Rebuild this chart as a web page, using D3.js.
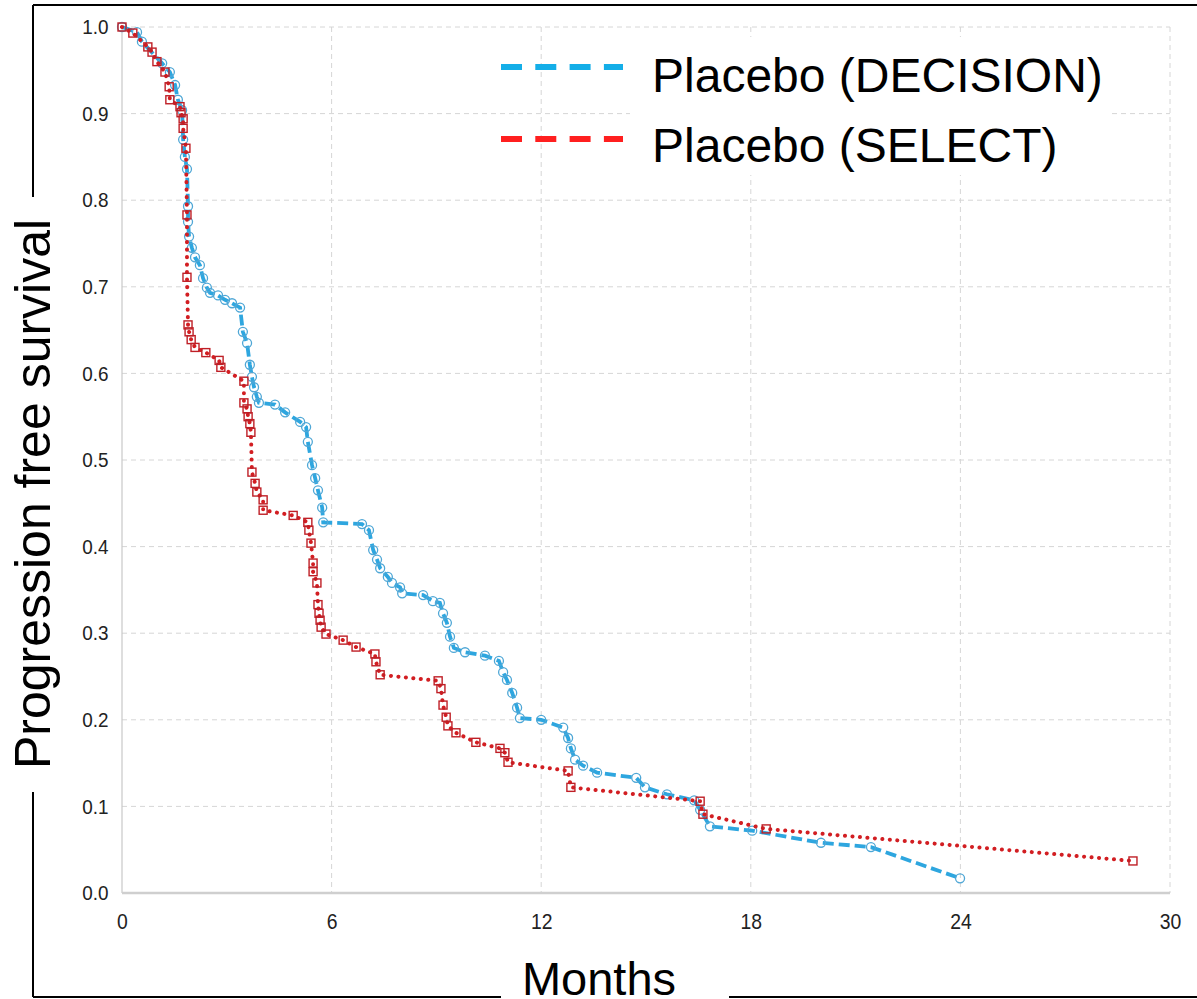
<!DOCTYPE html>
<html>
<head>
<meta charset="utf-8">
<script src="https://cdn.jsdelivr.net/npm/d3@7"></script>
<style>
  body { margin: 0; background: #fff; }
  svg { display: block; font-family: "Liberation Sans", Arial, sans-serif; }
</style>
</head>
<body>
<script>
const w = 1197;
const h = 999;

// Placebo (DECISION): months, progression free survival
const decisionMonths = [0, 0.43, 0.57, 1.15, 1.37, 1.52, 1.6, 1.72, 1.75, 1.8, 1.86, 1.89, 1.89, 1.92, 2.0, 2.09, 2.23, 2.32, 2.43, 2.52, 2.75, 2.95, 3.15, 3.38, 3.46, 3.58, 3.66, 3.72, 3.78, 3.86, 3.92, 4.38, 4.67, 5.1, 5.27, 5.32, 5.44, 5.53, 5.61, 5.73, 5.76, 6.87, 7.07, 7.19, 7.3, 7.39, 7.61, 7.73, 7.96, 8.02, 8.62, 8.9, 9.1, 9.19, 9.3, 9.39, 9.5, 9.82, 10.39, 10.79, 10.91, 11.02, 11.17, 11.31, 11.39, 12.0, 12.63, 12.77, 12.85, 12.97, 13.2, 13.6, 14.72, 14.97, 15.6, 16.38, 16.55, 16.83, 18.04, 20.01, 21.44, 23.99];
const decisionSurv = [1.0, 0.994, 0.983, 0.958, 0.948, 0.933, 0.916, 0.904, 0.87, 0.85, 0.836, 0.793, 0.775, 0.758, 0.745, 0.734, 0.725, 0.71, 0.699, 0.693, 0.69, 0.685, 0.681, 0.676, 0.648, 0.635, 0.61, 0.596, 0.584, 0.573, 0.566, 0.564, 0.555, 0.544, 0.538, 0.521, 0.494, 0.479, 0.465, 0.445, 0.428, 0.426, 0.419, 0.396, 0.385, 0.375, 0.365, 0.358, 0.353, 0.346, 0.344, 0.337, 0.335, 0.323, 0.312, 0.296, 0.283, 0.278, 0.274, 0.268, 0.255, 0.246, 0.231, 0.214, 0.202, 0.2, 0.191, 0.179, 0.167, 0.154, 0.147, 0.139, 0.133, 0.122, 0.114, 0.107, 0.096, 0.077, 0.072, 0.058, 0.053, 0.017];

// Placebo (SELECT)
const selectMonths = [0, 0.31, 0.74, 0.86, 1.0, 1.23, 1.35, 1.37, 1.66, 1.69, 1.75, 1.75, 1.83, 1.86, 1.86, 1.89, 1.92, 1.98, 2.09, 2.4, 2.78, 2.83, 3.49, 3.49, 3.58, 3.61, 3.66, 3.69, 3.72, 3.81, 3.86, 4.04, 4.04, 4.9, 5.32, 5.35, 5.41, 5.47, 5.47, 5.58, 5.61, 5.64, 5.67, 5.7, 5.84, 6.33, 6.7, 7.24, 7.27, 7.39, 9.05, 9.13, 9.19, 9.28, 9.33, 9.56, 10.13, 10.82, 10.96, 11.05, 12.77, 12.85, 16.55, 16.63, 18.44, 28.94];
const selectSurv = [1.0, 0.993, 0.977, 0.971, 0.96, 0.948, 0.931, 0.916, 0.908, 0.901, 0.894, 0.883, 0.86, 0.783, 0.711, 0.656, 0.648, 0.639, 0.63, 0.624, 0.615, 0.607, 0.591, 0.566, 0.559, 0.55, 0.542, 0.532, 0.486, 0.473, 0.463, 0.454, 0.442, 0.436, 0.428, 0.419, 0.404, 0.381, 0.371, 0.358, 0.333, 0.323, 0.315, 0.307, 0.299, 0.292, 0.284, 0.276, 0.267, 0.252, 0.245, 0.236, 0.217, 0.203, 0.193, 0.185, 0.174, 0.167, 0.162, 0.151, 0.141, 0.122, 0.106, 0.091, 0.074, 0.037];

const xTicks = [0, 6, 12, 18, 24, 30];
const yTicks = [0, 0.1, 0.2, 0.3, 0.4, 0.5, 0.6, 0.7, 0.8, 0.9, 1.0];
const seriesNames = ["Placebo (DECISION)", "Placebo (SELECT)"];

const svg = d3.select("body").append("svg").attr("width", w).attr("height", h);

const x = d3.scaleLinear().domain([0, 30]).range([122, 1170]);
const y = d3.scaleLinear().domain([0, 1]).range([893, 27]);

/* grid */
svg.append("g")
  .selectAll("line")
  .data(yTicks.filter((d) => d > 0))
  .join("line")
  .attr("x1", x(0)).attr("x2", x(30))
  .attr("y1", (d) => y(d)).attr("y2", (d) => y(d))
  .attr("stroke", "#d6d6d6")
  .attr("stroke-dasharray", "5,4");

svg.append("g")
  .selectAll("line")
  .data(xTicks.filter((d) => d > 0))
  .join("line")
  .attr("x1", (d) => x(d)).attr("x2", (d) => x(d))
  .attr("y1", y(1)).attr("y2", y(0))
  .attr("stroke", "#d6d6d6")
  .attr("stroke-dasharray", "5,4");

// axis lines
svg.append("line")
  .attr("x1", x(0)).attr("x2", x(0)).attr("y1", y(1)).attr("y2", y(0))
  .attr("stroke", "#c8c8c8").attr("stroke-width", 1.2);
svg.append("line")
  .attr("x1", x(0)).attr("x2", x(30)).attr("y1", y(0)).attr("y2", y(0))
  .attr("stroke", "#cfcfcf").attr("stroke-width", 2.5);

/* tick labels */
const yAxis = d3.axisLeft(y).tickValues(yTicks).tickFormat(d3.format(".1f")).tickSize(0).tickPadding(15);
const gy = svg.append("g").attr("transform", `translate(${x(0)},0)`).call(yAxis);
gy.select(".domain").remove();
gy.selectAll("text")
  .attr("font-size", 21)
  .attr("font-family", "Liberation Sans, Arial, sans-serif")
  .attr("fill", "#222")
  .attr("transform", "scale(0.9,1)");

const xAxis = d3.axisBottom(x).tickValues(xTicks).tickFormat(d3.format("d")).tickSize(0).tickPadding(20);
const gx = svg.append("g").attr("transform", `translate(0,${y(0)})`).call(xAxis);
gx.select(".domain").remove();
gx.selectAll("text")
  .attr("font-size", 22)
  .attr("font-family", "Liberation Sans, Arial, sans-serif")
  .attr("fill", "#222")
  .attr("transform", "scale(0.88,1)");

/* legend background hides part of the grid */
svg.append("rect")
  .attr("x", 630).attr("y", 37).attr("width", 480).attr("height", 138)
  .attr("fill", "#fff");

/* curves */
const decision = decisionMonths.map((m, i) => ({ m: m, s: decisionSurv[i] }));
const select = selectMonths.map((m, i) => ({ m: m, s: selectSurv[i] }));

const line = d3.line().x((d) => x(d.m)).y((d) => y(d.s));

svg.append("path")
  .datum(decision)
  .attr("d", line)
  .attr("fill", "none")
  .attr("stroke", "#2ea6df")
  .attr("stroke-width", 3.8)
  .attr("stroke-dasharray", "11,5");

svg.append("g")
  .selectAll("circle")
  .data(decision)
  .join("circle")
  .attr("cx", (d) => x(d.m))
  .attr("cy", (d) => y(d.s))
  .attr("r", 4.5)
  .attr("fill", "none")
  .attr("stroke", "#4fa7d6")
  .attr("stroke-width", 1.3);

svg.append("path")
  .datum(select)
  .attr("d", line)
  .attr("fill", "none")
  .attr("stroke", "#d21e22")
  .attr("stroke-width", 4)
  .attr("stroke-linecap", "round")
  .attr("stroke-dasharray", "0.1,7.4");

const sq = 8;
svg.append("g")
  .selectAll("rect")
  .data(select)
  .join("rect")
  .attr("x", (d) => x(d.m) - sq / 2)
  .attr("y", (d) => y(d.s) - sq / 2)
  .attr("width", sq)
  .attr("height", sq)
  .attr("fill", "none")
  .attr("stroke", "#bf1f26")
  .attr("stroke-width", 1.4);

/* legend */
const legendColors = ["#14aee8", "#ff1f1f"];
const legend = svg.append("g");
legend.selectAll("line")
  .data(seriesNames)
  .join("line")
  .attr("x1", 501).attr("x2", 623)
  .attr("y1", (d, i) => 67 + i * 72).attr("y2", (d, i) => 67 + i * 72)
  .attr("stroke", (d, i) => legendColors[i])
  .attr("stroke-width", 6)
  .attr("stroke-dasharray", "21,13.3");
legend.selectAll("text")
  .data(seriesNames)
  .join("text")
  .attr("x", 652)
  .attr("y", (d, i) => 92 + i * 70)
  .attr("font-size", 48)
  .attr("fill", "#000")
  .text((d) => d);

/* outer frame, broken for the axis titles */
const frame = [
  [33, 5, 1197, 5],
  [33, 5, 33, 197],
  [33, 792, 33, 997],
  [33, 997, 501, 997],
  [729, 997, 1197, 997],
];
svg.append("g")
  .selectAll("line")
  .data(frame)
  .join("line")
  .attr("x1", (d) => d[0]).attr("y1", (d) => d[1])
  .attr("x2", (d) => d[2]).attr("y2", (d) => d[3])
  .attr("stroke", "#000")
  .attr("stroke-width", 2);

svg.append("text")
  .attr("transform", "translate(50,494) rotate(-90)")
  .attr("text-anchor", "middle")
  .attr("font-size", 50)
  .attr("fill", "#000")
  .text("Progression free survival");

svg.append("text")
  .attr("x", 599)
  .attr("y", 995)
  .attr("text-anchor", "middle")
  .attr("font-size", 47)
  .attr("fill", "#000")
  .text("Months");
</script>
</body>
</html>
